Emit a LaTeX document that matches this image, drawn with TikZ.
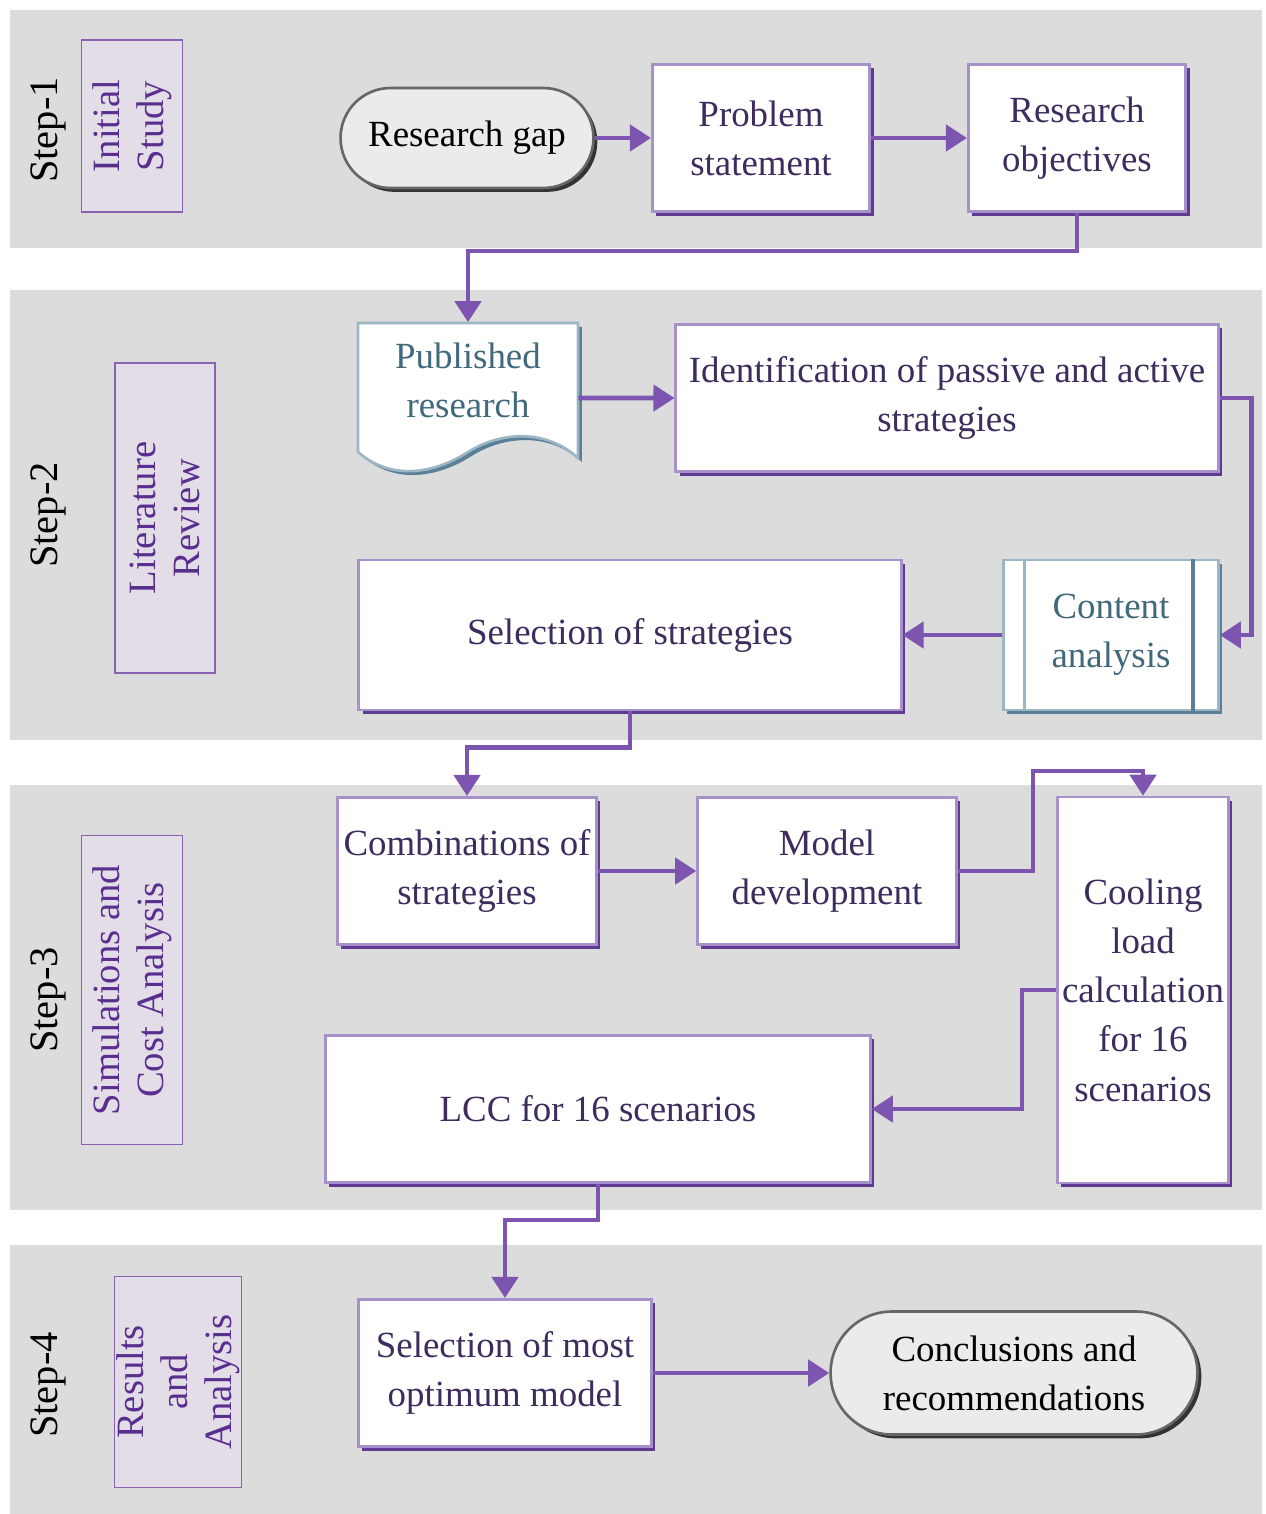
\documentclass[tikz,border=0pt]{standalone}
\usepackage{fontspec}
\setmainfont{Liberation Serif}
\usetikzlibrary{shapes.misc,shadows,arrows.meta}
\definecolor{bandgray}{HTML}{DCDCDC}
\definecolor{flowpurple}{HTML}{7D55B0}
\definecolor{boxline}{HTML}{A890CA}
\definecolor{boxdark}{HTML}{5F3A90}
\definecolor{boxtext}{HTML}{3E2C5E}
\definecolor{docline}{HTML}{9DB6C4}
\definecolor{docdark}{HTML}{5A8098}
\definecolor{doctext}{HTML}{41697B}
\definecolor{termfill}{HTML}{EBEBEB}
\definecolor{termline}{HTML}{666666}
\definecolor{phaseline}{HTML}{8A62B2}
\definecolor{phasefill}{HTML}{E3DDE8}
\definecolor{phasetext}{HTML}{5A2E8E}
\begin{document}
\begin{tikzpicture}[x=0.02cm, y=-0.02cm,
    band/.style={fill=bandgray, draw=none},
    steplabel/.style={rotate=90, font=\fontsize{23}{28}\selectfont},
    phase/.style={rectangle, draw=phaseline, line width=0.8pt, fill=phasefill, text=phasetext,
        rotate=90, align=center, font=\fontsize{22}{25}\selectfont, inner sep=1pt},
    process/.style={rectangle, draw=boxline, line width=1.5pt, fill=white, text=boxtext,
        align=center, font=\fontsize{21}{28}\selectfont, inner sep=2pt,
        drop shadow={shadow xshift=2.2pt, shadow yshift=-2.2pt, fill=boxdark, opacity=1}},
    predef/.style={process, draw=docline, text=doctext,
        drop shadow={shadow xshift=2.2pt, shadow yshift=-2.2pt, fill=docdark, opacity=1}},
    terminal/.style={rounded rectangle, draw=termline, line width=1.5pt, fill=termfill,
        align=center, font=\fontsize{21}{28}\selectfont, inner sep=2pt,
        drop shadow={shadow xshift=2.2pt, shadow yshift=-2.2pt, fill=black!80, opacity=1}},
    docnode/.style={rectangle, draw=none, text=doctext, align=center,
        font=\fontsize{21}{28}\selectfont, minimum width=4.4cm, minimum height=2.3cm},
    flow/.style={draw=flowpurple, line width=2.6pt, -{Triangle[length=0.42cm, width=0.52cm]}}
]
    \useasboundingbox (0,0) rectangle (1265,1514);

    % Background bands
    \fill[band] (10,10) rectangle (1262,248);
    \fill[band] (10,290) rectangle (1262,740);
    \fill[band] (10,785) rectangle (1262,1210);
    \fill[band] (10,1245) rectangle (1262,1514);

    % Step labels and phase boxes
    \node[steplabel] (s1) at (48,130) {Step-1};
    \node[steplabel] (s2) at (48,515) {Step-2};
    \node[steplabel] (s3) at (48,1000) {Step-3};
    \node[steplabel] (s4) at (48,1385) {Step-4};

    \node[phase, minimum width=3.44cm, minimum height=2.02cm] (p1) at (132,126) {Initial\\Study};
    \node[phase, minimum width=6.2cm, minimum height=2cm] (p2) at (165,518) {Literature\\Review};
    \node[phase, minimum width=6.18cm, minimum height=2.02cm] (p3) at (132,990) {Simulations and\\Cost Analysis};
    \node[phase, minimum width=4.22cm, minimum height=2.54cm] (p4) at (178,1382) {Results\\and\\Analysis};

    % Step 1
    \node[terminal, minimum width=5.2cm, minimum height=2cm] (gap) at (467,138) {Research gap};
    \node[process, minimum width=4.35cm, minimum height=2.95cm] (prob) at (761,138) {Problem\\statement};
    \node[process, minimum width=4.35cm, minimum height=2.95cm] (obj) at (1077,138) {Research\\objectives};

    % Step 2
    \fill[docdark, xshift=2.2pt, yshift=-2.2pt] (358,323) -- (578,323) -- (578,458)
        .. controls (545,428) and (500,432) .. (468,452)
        .. controls (432,475) and (390,480) .. (358,452) -- cycle;
    \draw[docline, line width=1.5pt, fill=white] (358,323) -- (578,323) -- (578,458)
        .. controls (545,428) and (500,432) .. (468,452)
        .. controls (432,475) and (390,480) .. (358,452) -- cycle;
    \node[docnode] (pub) at (468,380) {Published\\research};
    \node[process, minimum width=10.85cm, minimum height=2.95cm] (ident) at (947,398)
        {Identification of passive and active\\strategies};
    \node[predef, minimum width=4.3cm, minimum height=3cm] (cont) at (1111,635) {Content\\analysis};
    \draw[docline, line width=1.5pt] ([xshift=0.44cm]cont.north west) -- ([xshift=0.44cm]cont.south west);
    \draw[docdark, line width=2pt] ([xshift=-0.54cm]cont.north east) -- ([xshift=-0.54cm]cont.south east);
    \node[process, minimum width=10.85cm, minimum height=3cm] (sel) at (630,635) {Selection of strategies};

    % Step 3
    \node[process, minimum width=5.18cm, minimum height=2.95cm] (comb) at (467,871) {Combinations of\\strategies};
    \node[process, minimum width=5.18cm, minimum height=2.95cm] (model) at (827,871) {Model\\development};
    \node[process, minimum width=3.42cm, minimum height=7.72cm] (cool) at (1143,990)
        {Cooling\\load\\calculation\\for 16\\scenarios};
    \node[process, minimum width=10.9cm, minimum height=2.95cm] (lcc) at (598,1109) {LCC for 16 scenarios};

    % Step 4
    \node[process, minimum width=5.86cm, minimum height=2.95cm] (opt) at (505,1373) {Selection of most\\optimum model};
    \node[terminal, minimum width=7.48cm, minimum height=2.46cm] (conc) at (1014,1373) {Conclusions and\\recommendations};

    % Connectors
    \draw[flow] (gap.east) -- (prob.west);
    \draw[flow] (prob.east) -- (obj.west);
    \draw[flow] (obj.south) -- ++(0,38) -| (pub.north);
    \draw[flow] ([yshift=-0.36cm]pub.east) -- (ident.west);
    \draw[flow] (ident.east) -- ++(32,0) |- (cont.east);
    \draw[flow] (cont.west) -- (sel.east);
    \draw[flow] (sel.south) -- ++(0,36) -| (comb.north);
    \draw[flow] (comb.east) -- (model.west);
    \draw[flow] (model.east) -- ++(75,0) -- ++(0,-100) -| (cool.north);
    \draw[flow] (cool.west) -- ++(-34,0) |- (lcc.east);
    \draw[flow] (lcc.south) -- ++(0,36) -| (opt.north);
    \draw[flow] (opt.east) -- (conc.west);
\end{tikzpicture}
\end{document}
